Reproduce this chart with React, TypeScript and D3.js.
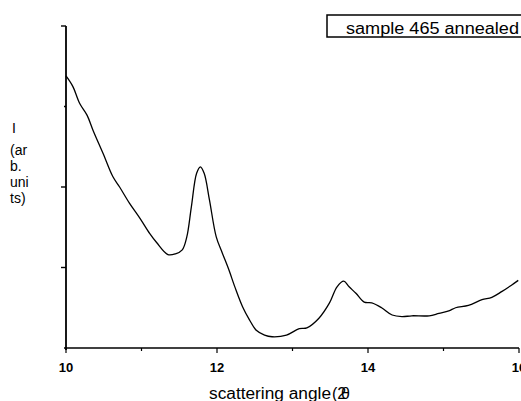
import * as d3 from "d3";

const angle = [
  10.0, 10.09, 10.18, 10.28, 10.36, 10.49, 10.62, 10.71, 10.84, 10.98, 11.11,
  11.20, 11.35, 11.45, 11.54, 11.60, 11.66, 11.73, 11.78, 11.83, 11.90, 11.99,
  12.07, 12.15, 12.24, 12.34, 12.43, 12.52, 12.63, 12.73, 12.92, 13.09, 13.19,
  13.35, 13.49, 13.59, 13.68, 13.75, 13.84, 13.95, 14.05, 14.18, 14.32, 14.45,
  14.58, 14.81, 14.94, 15.07, 15.16, 15.33, 15.51, 15.64, 15.77, 15.90, 15.99,
];
const intensity = [
  3.38, 3.25, 3.04, 2.89, 2.70, 2.42, 2.13, 2.00, 1.80, 1.61, 1.42,
  1.31, 1.16, 1.17, 1.22, 1.38, 1.75, 2.17, 2.25, 2.17, 1.84, 1.38,
  1.18, 0.99, 0.75, 0.51, 0.35, 0.22, 0.16, 0.14, 0.16, 0.24, 0.25,
  0.37, 0.56, 0.76, 0.83, 0.76, 0.68, 0.57, 0.56, 0.50, 0.41, 0.39,
  0.40, 0.40, 0.43, 0.46, 0.50, 0.53, 0.60, 0.63, 0.70, 0.78, 0.84,
];
const xMajor = [10, 12, 14, 16];
const xMinor = [11, 13, 15];
const yTicks = [1, 2, 3, 4];
const yLabelLines = ["(ar", "b.", "uni", "ts)"];
const legendText = "sample 465 annealed";

export default function App() {
  const width = 521;
  const height = 401;
  const x = d3.scaleLinear().domain([10, 16]).range([66, 519]);
  const y = d3.scaleLinear().domain([0, 4]).range([348, 26]);
  const data = angle.map((a, i) => ({ a, v: intensity[i] }));
  const line = d3
    .line<{ a: number; v: number }>()
    .x((d) => x(d.a))
    .y((d) => y(d.v))
    .curve(d3.curveCatmullRom);
  const font = "'Liberation Sans', Arial, sans-serif";

  return (
    <svg
      width={width}
      height={height}
      style={{ position: "absolute", left: 0, top: 0, background: "white" }}
      fontFamily={font}
    >
      {/* axes */}
      <line x1={x(10)} x2={x(10)} y1={y(4)} y2={y(0) + 2} stroke="black" strokeWidth={1.8} />
      <line x1={x(10) - 2} x2={x(16)} y1={y(0)} y2={y(0)} stroke="black" strokeWidth={1.6} />
      {yTicks.map((t) => (
        <line
          key={t}
          x1={x(10) - (t === 3 ? 2 : 5)}
          x2={x(10)}
          y1={y(t)}
          y2={y(t)}
          stroke="black"
          strokeWidth={1.4}
        />
      ))}
      {xMajor.map((t) => (
        <line key={t} x1={x(t)} x2={x(t)} y1={y(0)} y2={y(0) + 5} stroke="black" strokeWidth={1.2} />
      ))}
      {xMinor.map((t) => (
        <line key={t} x1={x(t)} x2={x(t)} y1={y(0)} y2={y(0) + 3} stroke="black" strokeWidth={1.2} />
      ))}
      {xMajor.map((t) => (
        <text key={t} x={x(t)} y={372} fontSize={13} fontWeight="bold" textAnchor="middle">
          {t}
        </text>
      ))}

      {/* curve */}
      <path d={line(data) ?? ""} fill="none" stroke="black" strokeWidth={1.3} />

      {/* y label */}
      <text x={12} y={133} fontSize={14} fill="black">I</text>
      {yLabelLines.map((s, i) => (
        <text key={s} x={10} y={155 + i * 16} fontSize={14} fill="black">
          {s}
        </text>
      ))}

      {/* x label */}
      <text x={209} y={399} fontSize={16} textLength={122} lengthAdjust="spacingAndGlyphs">
        scattering angle
      </text>
      <text x={332} y={399} fontSize={16}>(2</text>
      <text x={341} y={399} fontSize={16}>θ</text>

      {/* legend */}
      <rect x={327} y={15} width={196} height={22} fill="white" stroke="black" strokeWidth={1.5} />
      <text x={346} y={34} fontSize={16} textLength={173} lengthAdjust="spacingAndGlyphs">
        {legendText}
      </text>
    </svg>
  );
}
